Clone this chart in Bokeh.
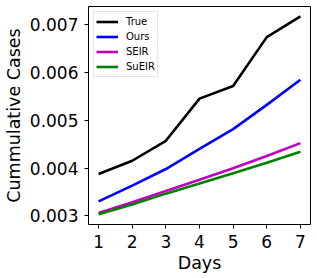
from bokeh.plotting import figure
from bokeh.models import FixedTicker, Range1d, Legend, LegendItem, PrintfTickFormatter
from bokeh.embed import file_html
from bokeh.resources import INLINE

days = [1, 2, 3, 4, 5, 6, 7]
true_vals = [0.003875, 0.004152, 0.004569, 0.005450, 0.005715, 0.006735, 0.007167]
ours_vals = [0.003304, 0.003631, 0.003979, 0.004402, 0.004812, 0.005319, 0.005846]
seir_vals = [0.003063, 0.003285, 0.003520, 0.003755, 0.003996, 0.004250, 0.004521]
sueir_vals = [0.003033, 0.003240, 0.003465, 0.003675, 0.003892, 0.004110, 0.004340]
y_ticks = [0.003, 0.004, 0.005, 0.006, 0.007]

FONT = "DejaVu Sans"

p = figure(width=312, height=275, output_backend="svg", toolbar_location=None,
           x_range=Range1d(0.7, 7.3), y_range=Range1d(0.00282, 0.007375),
           min_border_left=87, min_border_right=2, min_border_top=6, min_border_bottom=50)

p.xgrid.visible = False
p.ygrid.visible = False
p.outline_line_color = "black"
p.outline_line_width = 1
p.background_fill_color = "white"
p.border_fill_color = "white"

colors = ["black", "#0000ff", "#bf00bf", "#008000"]
names = ["True", "Ours", "SEIR", "SuEIR"]
series = [true_vals, ours_vals, seir_vals, sueir_vals]
items = []
for vals, c, n in zip(series, colors, names):
    r = p.line(days, vals, line_color=c, line_width=2.6)
    items.append(LegendItem(label=n, renderers=[r]))

for ax in (p.xaxis, p.yaxis):
    ax.axis_line_color = None
    ax.major_tick_line_color = "black"
    ax.major_tick_out = 4
    ax.major_tick_in = 0
    ax.minor_tick_line_color = None
    ax.major_label_text_font = FONT
    ax.major_label_text_font_size = "17px"
    ax.major_label_text_color = "black"
    ax.axis_label_text_font = FONT
    ax.axis_label_text_font_style = "normal"
    ax.axis_label_text_color = "black"
    ax.major_label_standoff = 6

p.xaxis.ticker = FixedTicker(ticks=days)
p.yaxis.ticker = FixedTicker(ticks=y_ticks)
p.yaxis.formatter = PrintfTickFormatter(format="%.3f")
p.xaxis.axis_label = "Days"
p.yaxis.axis_label = "Cummulative Cases"
p.xaxis.axis_label_text_font_size = "17.5px"
p.yaxis.axis_label_text_font_size = "17.5px"
p.xaxis.axis_label_standoff = 2
p.yaxis.axis_label_standoff = 3

legend = Legend(items=items, location="top_left")
legend.label_text_font = FONT
legend.label_text_font_size = "10px"
legend.label_text_color = "black"
legend.glyph_width = 22
legend.glyph_height = 15
legend.label_height = 15
legend.label_standoff = 8
legend.spacing = 0
legend.padding = 2
legend.margin = 5
legend.border_line_color = "#cccccc"
legend.border_line_width = 1
legend.background_fill_alpha = 0.8
p.add_layout(legend)

open("out.html", "w").write(file_html(p, INLINE))
